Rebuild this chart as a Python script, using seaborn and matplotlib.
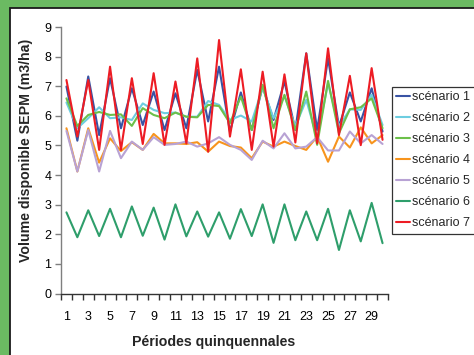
import numpy as np
import pandas as pd
import matplotlib
matplotlib.use('Agg')
import matplotlib.pyplot as plt
import seaborn as sns
from matplotlib.patches import Rectangle
from matplotlib.ticker import FixedLocator, NullFormatter, FixedFormatter

periods = list(range(1, 31))

s1 = [6.99, 5.16, 7.33, 5.35, 7.27, 5.58, 6.93, 5.69, 6.82, 5.52,
      6.76, 5.58, 7.55, 5.81, 7.66, 5.47, 6.79, 5.52, 6.99, 5.86,
      7.16, 5.52, 8.11, 5.52, 7.94, 5.64, 6.79, 5.81, 6.93, 5.47]
s2 = [6.45, 5.58, 5.92, 6.29, 5.92, 5.95, 5.86, 6.42, 6.20, 6.09,
      6.11, 5.97, 5.97, 6.50, 6.37, 5.86, 6.01, 5.81, 6.95, 5.92,
      6.67, 5.64, 6.54, 5.24, 7.10, 5.64, 6.22, 6.20, 6.71, 5.69]
s3 = [6.59, 5.66, 6.03, 6.13, 6.03, 6.05, 5.66, 6.26, 6.03, 5.92,
      6.11, 5.97, 5.95, 6.37, 6.33, 5.75, 6.65, 5.52, 7.05, 5.58,
      6.71, 5.52, 6.82, 5.02, 7.18, 5.41, 6.22, 6.29, 6.59, 5.58]
s4 = [5.58, 4.12, 5.58, 4.42, 5.24, 4.81, 5.11, 4.85, 5.39, 5.07,
      5.07, 5.05, 5.11, 4.79, 5.13, 4.98, 4.93, 4.57, 5.13, 4.96,
      5.13, 4.98, 4.85, 5.30, 4.45, 5.30, 4.93, 5.61, 5.07, 5.35]
s5 = [5.49, 4.12, 5.52, 4.12, 5.49, 4.57, 5.13, 4.85, 5.28, 5.02,
      5.05, 5.13, 4.96, 5.07, 5.28, 5.02, 4.85, 4.51, 5.16, 4.90,
      5.41, 4.90, 4.96, 5.28, 4.83, 4.83, 5.47, 5.07, 5.35, 5.05]
s6 = [2.74, 1.90, 2.81, 1.94, 2.86, 1.90, 2.94, 1.95, 2.90, 1.82,
      3.01, 1.93, 2.77, 1.92, 2.74, 1.85, 2.85, 1.94, 3.01, 1.71,
      3.01, 1.80, 2.77, 1.80, 2.86, 1.47, 2.81, 1.76, 3.06, 1.70]
s7 = [7.21, 5.30, 7.21, 4.85, 7.66, 4.85, 7.27, 5.05, 7.44, 5.02,
      7.16, 5.07, 7.94, 4.79, 8.56, 5.30, 7.57, 4.85, 7.49, 4.96,
      7.40, 5.10, 8.11, 5.07, 8.28, 5.35, 7.35, 5.01, 7.61, 5.19]

series_names = ['scénario 1', 'scénario 2', 'scénario 3', 'scénario 4',
                'scénario 5', 'scénario 6', 'scénario 7']
colors = ['#3953a4', '#6dcde0', '#6cc04a', '#f7941d',
          '#b8a2d4', '#2e9e6b', '#ed1c24']
x_tick_labels = [str(i) for i in range(1, 30, 2)]
y_ticks = list(range(0, 10))

frames = []
for name, vals in zip(series_names, [s1, s2, s3, s4, s5, s6, s7]):
    frames.append(pd.DataFrame({'period': periods, 'value': vals, 'scenario': name}))
df = pd.concat(frames, ignore_index=True)

sns.set_theme(style='white')
plt.rcParams['font.family'] = ['Liberation Sans', 'DejaVu Sans']

W, H = 474, 355
fig = plt.figure(figsize=(W / 100, H / 100), dpi=100, facecolor='#6bba62')
fig.patches.append(Rectangle((10 / W, -0.1), 1.2, (H - 8) / H + 0.1,
                             transform=fig.transFigure, facecolor='white',
                             edgecolor='#1a1a1a', lw=1.3, zorder=-1))

ax = fig.add_axes([61 / W, 61.5 / H, 327 / W, 266.5 / H])
ax.set_facecolor('none')

sns.lineplot(data=df, x='period', y='value', hue='scenario',
             hue_order=series_names, palette=colors, linewidth=1.5,
             estimator=None, errorbar=None, ax=ax)

ax.set_xlim(0.5, 30.5)
ax.set_ylim(0, 9)
ax.set_yticks(y_ticks)

ax.xaxis.set_major_locator(FixedLocator(np.arange(0.5, 31, 1)))
ax.xaxis.set_major_formatter(NullFormatter())
ax.xaxis.set_minor_locator(FixedLocator(list(range(1, 30, 2))))
ax.xaxis.set_minor_formatter(FixedFormatter(x_tick_labels))

for s in ['top', 'right']:
    ax.spines[s].set_visible(False)
ax.spines['left'].set_color('#7f7f7f')
ax.spines['bottom'].set_color('#333333')
ax.spines['left'].set_linewidth(1.0)
ax.spines['bottom'].set_linewidth(1.0)

ax.tick_params(axis='y', which='major', left=True, direction='out', length=4,
               width=1, color='#7f7f7f', labelsize=9, pad=3, labelcolor='black')
ax.tick_params(axis='x', which='major', bottom=True, direction='out', length=4,
               width=1, color='#333333')
ax.tick_params(axis='x', which='minor', bottom=True, length=0, labelsize=9,
               pad=12.5, labelcolor='black')

ax.set_xlabel('Périodes quinquennales', fontsize=10.2, fontweight='bold')
ax.set_ylabel('Volume disponible SEPM (m3/ha)', fontsize=10.2, fontweight='bold')
ax.xaxis.set_label_coords(0.466, -0.157)
ax.yaxis.set_label_coords(-0.086, 0.538)

handles, labels = ax.get_legend_handles_labels()
for h in handles:
    h.set_linewidth(1.5)
leg = ax.legend(handles, labels, loc='upper left',
                bbox_to_anchor=(392 / W, (H - 87) / H), bbox_transform=fig.transFigure,
                frameon=True, fancybox=False, edgecolor='black', fontsize=9,
                handlelength=1.12, handletextpad=0.15, borderpad=0.35,
                labelspacing=0.72, borderaxespad=0)
leg.get_frame().set_linewidth(0.9)

fig.savefig('out.png', dpi=100, facecolor=fig.get_facecolor())
